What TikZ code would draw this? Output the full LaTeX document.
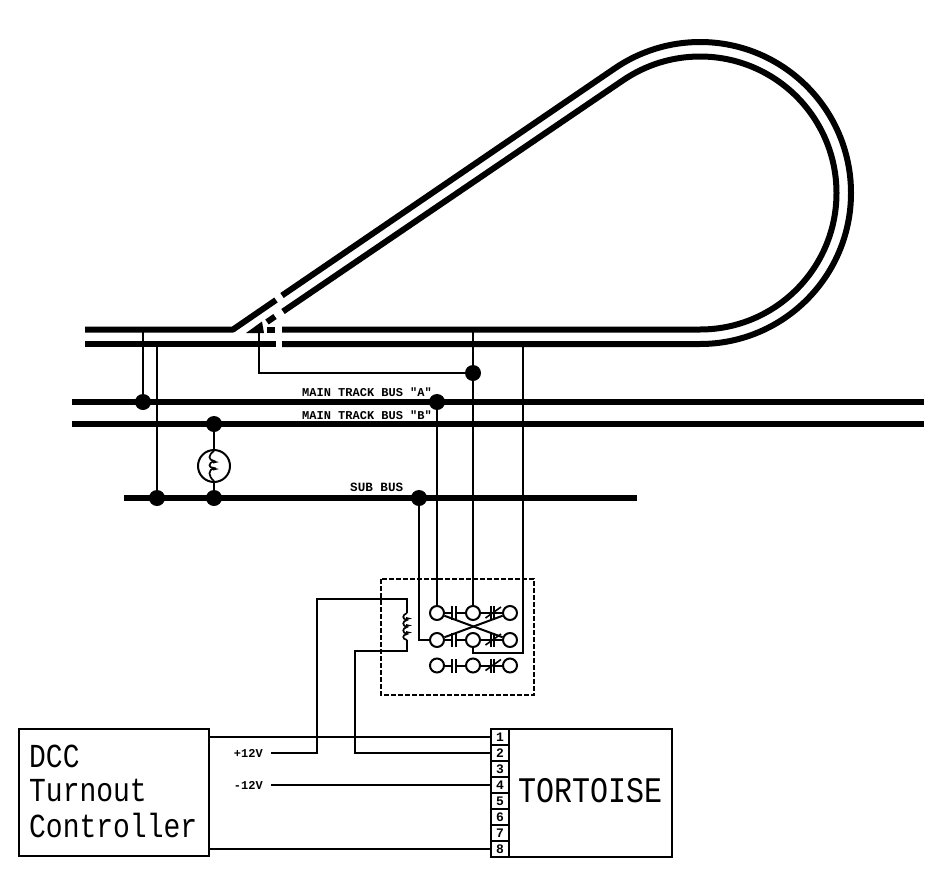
\documentclass[tikz,border=0pt]{standalone}
\usepackage{fontspec}
\usepackage{graphicx}
\newfontfamily\cadfont{Liberation Mono}
\newfontfamily\cadbold{Liberation Mono Bold}
\tikzset{
  rail/.style={line width=6pt,line join=round},
  bus/.style={line width=6pt},
  wire/.style={line width=2.1pt,line join=miter},
  dotj/.style={circle,fill=black,inner sep=0pt,minimum size=16pt},
  term/.style={circle,draw=black,line width=2pt,inner sep=0pt,minimum size=14pt},
  boxed/.style={draw=black,line width=2pt},
  bigtxt/.style={anchor=base west,inner sep=0pt,font=\cadfont\fontsize{28}{28}\selectfont},
  smalltxt/.style={anchor=base west,inner sep=0pt,font=\cadbold\fontsize{12}{12}\selectfont},
  numtxt/.style={inner sep=0pt,font=\cadbold\fontsize{13}{13}\selectfont},
  contact/.style={line width=2pt},
}
\begin{document}
\begin{tikzpicture}[x=1pt,y=-1pt]
\useasboundingbox (0,0) rectangle (951,881);
% track
\draw[rail] (85,344) -- (276,344);
\draw[rail] (85,329.5) -- (233,329.5) -- (276,300);
\draw[rail] (282,344) -- (700,344) arc[start angle=-90,end angle=124.33,radius=151pt] -- (282,295.5);
\draw[rail] (282,329.5) -- (700,329.5) arc[start angle=-90,end angle=124.33,radius=136.5pt] -- (283,311.5);
\draw[rail] (267,329.5) -- (275,329.5);
\draw[rail] (267,322) -- (275,316.5);
\fill (246,333) -- (262,321.5) -- (264,333) -- cycle;
% buses
\draw[bus] (72,402) -- (924,402);
\draw[bus] (72,424) -- (924,424);
\draw[bus] (124,498) -- (637,498);
% junctions
\node[dotj] (d1) at (143,402) {};
\node[dotj] (d2) at (157,498) {};
\node[dotj] (d3) at (214,424) {};
\node[dotj] (d4) at (214,498) {};
\node[dotj] (d5) at (473,373) {};
\node[dotj] (d6) at (437,402) {};
\node[dotj] (d7) at (419,498) {};
% rail tap points
\coordinate (r1) at (143,329.5);
\coordinate (r2) at (157,344);
\coordinate (r3) at (259,326);
\coordinate (r3b) at (259,373);
\coordinate (r4) at (473,329.5);
\coordinate (r5) at (523,344);
\draw[wire] (r1) -- (d1);
\draw[wire] (r2) -- (d2);
\draw[wire] (r3) -- (r3b) -- (d5);
% lamp
\node[circle,draw=black,line width=2pt,inner sep=0pt,minimum size=32pt] (lamp) at (214,466) {};
\draw[wire] (d3) -- (lamp.north);
\draw[wire] (lamp.south) -- (d4);
\draw[line width=1.7pt] (214,451) .. controls (208,455) and (208,460) .. (214,461)
  .. controls (208,463) and (208,468) .. (214,468)
  .. controls (208,470) and (208,476) .. (214,481);
\fill (213,460.5) -- (219,462) -- (213,463.5) -- cycle;
\fill (213,467.5) -- (219,469) -- (213,470.5) -- cycle;
% relay contact box
\draw[line width=1.5pt,dashed,dash pattern=on 5pt off 2pt] (381,579) rectangle (534,695);
\foreach \r/\y in {1/613,2/640,3/665.5}{
  \node[term] (s\r1) at (437,\y) {};
  \node[term] (s\r2) at (473,\y) {};
  \node[term] (s\r3) at (510,\y) {};
  \coordinate (ca\r) at (452,\y);
  \coordinate (cb\r) at (456,\y);
  \coordinate (cc\r) at (490.5,\y);
  \coordinate (cd\r) at (494,\y);
  \draw[contact] (s\r1) -- (ca\r);
  \draw[contact] (cb\r) -- (s\r2);
  \draw[contact] (s\r2) -- (cc\r);
  \draw[contact] (cd\r) -- (s\r3);
  \draw[contact] ([yshift=-7pt]ca\r) -- ([yshift=7pt]ca\r);
  \draw[contact] ([yshift=-7pt]cb\r) -- ([yshift=7pt]cb\r);
  \draw[contact] ([yshift=-7pt]cc\r) -- ([yshift=7pt]cc\r);
  \draw[contact] ([yshift=-7pt]cd\r) -- ([yshift=7pt]cd\r);
  \draw[line width=1.6pt] ([xshift=-5pt,yshift=-5pt]cc\r) -- ([xshift=7pt,yshift=6pt]cd\r);
}
\draw[contact] (s11) -- (s23);
\draw[contact] (s21) -- (s13);
% wires to relay
\coordinate (w1) at (419,640);
\coordinate (w2) at (523,653);
\coordinate (w3) at (473,653);
\draw[wire] (d6) -- (s11);
\draw[wire] (d7) -- (w1) -- (s21);
\draw[wire] (r4) -- (s12);
\draw[wire] (r5) -- (w2) -- (w3) -- (s22);
% relay coil
\coordinate (k1) at (407,613);
\coordinate (k2) at (407,640);
\coordinate (kt) at (407,599);
\coordinate (kb) at (407,651);
\coordinate (kl) at (317,599);
\coordinate (kr) at (355,651);
\draw[line width=1.7pt] (k1) .. controls (402,615) and (402,619) .. (407,620)
  .. controls (402,621) and (402,626) .. (407,627)
  .. controls (402,628) and (402,633) .. (407,634)
  .. controls (402,635) and (402,639) .. (k2);
\fill (406,617) -- (412,618.5) -- (406,620) -- cycle;
\fill (406,624) -- (412,625.5) -- (406,627) -- cycle;
\fill (406,631) -- (412,632.5) -- (406,634) -- cycle;
% controller and tortoise
\node[boxed,anchor=north west,inner sep=0pt,minimum width=190pt,minimum height=127pt] (ctl) at (18,728) {};
\node[boxed,anchor=north west,inner sep=0pt,minimum width=163pt,minimum height=128pt] (trt) at (508,728) {};
\node[bigtxt] (t1) at (29,767) {\scalebox{1}[1.2]{DCC}};
\node[bigtxt] (t2) at (29,801) {\scalebox{1}[1.2]{Turnout}};
\node[bigtxt] (t3) at (29,837) {\scalebox{1}[1.2]{Controller}};
\node[bigtxt,font=\cadfont\fontsize{30}{30}\selectfont] (t4) at (518,802) {\scalebox{1}[1.2]{TORTOISE}};
% terminal block
\foreach \i/\y in {1/737,2/753,3/769,4/785,5/801,6/817,7/833,8/849}{
  \node[boxed,minimum width=18pt,minimum height=16pt,inner sep=0pt,numtxt] (p\i) at (500,\y) {\i};
}
% labels
\node[smalltxt] (l1) at (302,396) {MAIN TRACK BUS "A"};
\node[smalltxt] (l2) at (302,419) {MAIN TRACK BUS "B"};
\node[smalltxt,font=\cadbold\fontsize{12.6}{12.6}\selectfont] (l3) at (350,491.5) {SUB BUS};
\node[smalltxt,anchor=base east] (l4) at (263,757) {+12V};
\node[smalltxt,anchor=base east] (l5) at (263,789) {-12V};
\coordinate (a1) at (271,753);
\coordinate (a2) at (317,753);
\coordinate (a3) at (271,785);
\coordinate (a4) at (355,753);
\coordinate (c1) at (ctl.east |- p1);
\coordinate (c8) at (ctl.east |- p8);
\draw[wire] (c1) -- (p1.west);
\draw[wire] (c8) -- (p8.west);
\draw[wire] (a1) -- (a2) -- (kl) -- (kt) -- (k1);
\draw[wire] (p2.west) -- (a4) -- (kr) -- (kb) -- (k2);
\draw[wire] (a3) -- (p4.west);
\end{tikzpicture}
\end{document}
